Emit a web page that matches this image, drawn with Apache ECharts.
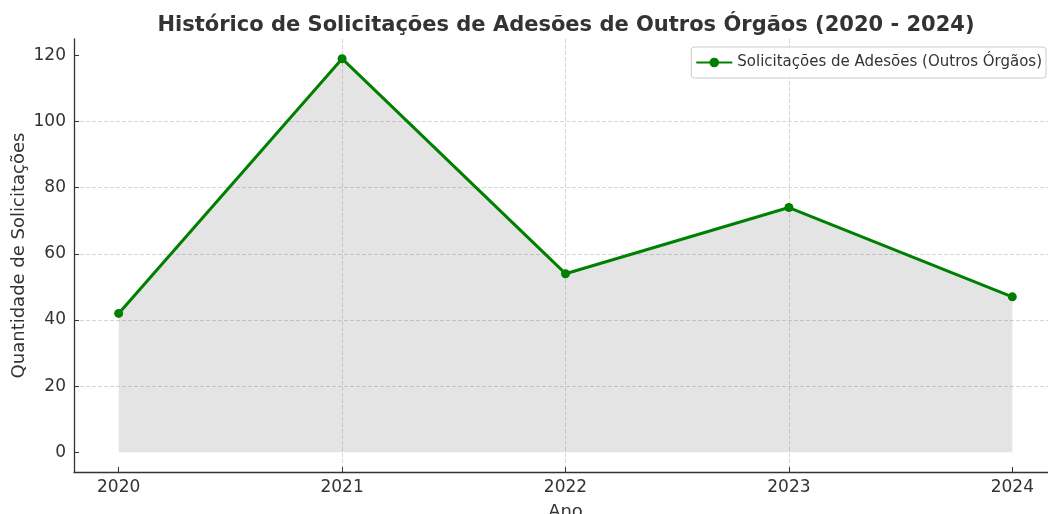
<!DOCTYPE html>
<html>
<head>
<meta charset="utf-8">
<script src="https://cdn.jsdelivr.net/npm/echarts@6/dist/echarts.min.js"></script>
<style>
    html, body { margin: 0; padding: 0; background: #fff; }
    #chart { width: 1048px; height: 514px; }
</style>
</head>
<body>
<div id="chart"></div>
<script>
// dados do gráfico
const anos = [2020, 2021, 2022, 2023, 2024]
const solicitacoes = [42, 119, 54, 74, 47]
const yTicks = [0, 20, 40, 60, 80, 100, 120]

const font = 'DejaVu Sans'
const textColor = '#333333'

let myChart = echarts.init(document.getElementById('chart'))

const gridLine = {
    show: true,
    showMinLine: false,
    showMaxLine: false,
    lineStyle: { color: '#cccccc', type: [4, 2], width: 0.8 }
}

let options = {
    animation: false,
    backgroundColor: '#ffffff',
    title: {
        text: 'Histórico de Solicitações de Adesões de Outros Órgãos (2020 - 2024)',
        left: 561,
        textAlign: 'center',
        top: 10,
        textStyle: { fontFamily: font, fontSize: 21, fontWeight: 'bold', color: textColor }
    },
    legend: {
        right: 2,
        top: 47,
        padding: [8, 4, 8, 4],
        itemWidth: 36,
        itemHeight: 12,
        itemGap: 10,
        borderColor: '#cccccc',
        borderWidth: 1,
        borderRadius: 3,
        backgroundColor: 'rgba(255,255,255,0.8)',
        textStyle: { fontFamily: font, fontSize: 15, color: textColor }
    },
    grid: { left: 74, top: 39, right: -9, bottom: 42, outerBoundsMode: 'none', containLabel: false },
    xAxis: {
        type: 'value',
        min: 2019.8,
        max: 2024.2,
        splitNumber: 5,
        name: 'Ano',
        nameLocation: 'middle',
        nameGap: 31,
        nameMoveOverlap: false,
        nameTextStyle: { fontFamily: font, fontSize: 18, color: textColor, verticalAlign: 'top' },
        axisLine: { show: true, onZero: false, lineStyle: { color: textColor, width: 1.3 } },
        axisTick: { show: true, inside: true, length: 5, customValues: anos, lineStyle: { color: textColor } },
        axisLabel: {
            customValues: anos,
            margin: 7,
            fontFamily: font, fontSize: 17, color: textColor,
            formatter: v => String(v)
        },
        splitLine: gridLine
    },
    yAxis: {
        type: 'value',
        min: -5.95,
        max: 124.95,
        splitNumber: 6,
        name: 'Quantidade de Solicitações',
        nameLocation: 'middle',
        nameGap: 46,
        nameMoveOverlap: false,
        nameTextStyle: { fontFamily: font, fontSize: 18, color: textColor },
        axisLine: { show: true, onZero: false, lineStyle: { color: textColor, width: 1.3 } },
        axisTick: { show: true, inside: true, length: 5, customValues: yTicks, lineStyle: { color: textColor } },
        axisLabel: {
            customValues: yTicks,
            margin: 8,
            fontFamily: font, fontSize: 17, color: textColor
        },
        splitLine: gridLine
    },
    series: [
        {
            name: 'Solicitações de Adesões (Outros Órgãos)',
            type: 'line',
            data: anos.map((a, i) => [a, solicitacoes[i]]),
            symbol: 'circle',
            symbolSize: 9,
            lineStyle: { color: '#008000', width: 3 },
            itemStyle: { color: '#008000' },
            areaStyle: { color: '#808080', opacity: 0.21, origin: 'auto' }
        }
    ]
}

options && myChart.setOption(options)
</script>
</body>
</html>
